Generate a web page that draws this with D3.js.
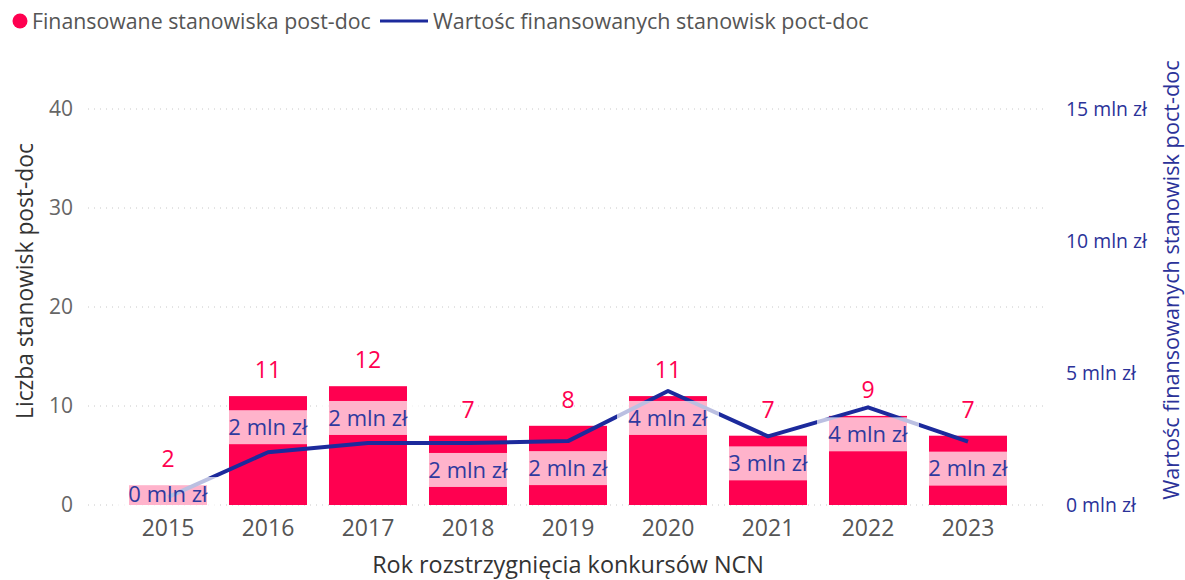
<!DOCTYPE html>
<html>
<head>
<meta charset="utf-8">
<script src="https://cdn.jsdelivr.net/npm/d3@7"></script>
<style>
  html, body { margin: 0; padding: 0; background: #fff; }
  svg { display: block; font-family: "Open Sans", "Segoe UI", sans-serif; }
</style>
</head>
<body>
<svg id="chart" width="1185" height="580"></svg>
<script>
// Years of NCN competition results
const years = ["2015", "2016", "2017", "2018", "2019", "2020", "2021", "2022", "2023"];
// Number of funded post-doc positions
const positions = [2, 11, 12, 7, 8, 11, 7, 9, 7];
// Value of funded post-doc positions, mln zł
const valueMln = [0.3, 2.0, 2.35, 2.35, 2.42, 4.32, 2.6, 3.7, 2.4];
// Where each value label sits relative to its point
const labelPlacement = ["center", "above", "above", "below", "below", "below", "below", "below", "below"];
const leftTicks = [0, 10, 20, 30, 40];
const rightTicks = [0, 5, 10, 15];

const RED = "#FF0050";
const BLUE = "#1C2A9C";
const LABEL_BLUE = "#2E3A9E";
const AXIS_BLUE = "#2B3299";

const svg = d3.select("#chart");
const plot = { left: 118, right: 1018, top: 109, bottom: 505 };

const x = d3.scaleBand().domain(years).range([plot.left, plot.right]).paddingInner(0.22).paddingOuter(0.11);
const yLeft = d3.scaleLinear().domain([0, 40]).range([plot.bottom, plot.top]);
const yRight = d3.scaleLinear().domain([0, 15]).range([plot.bottom, plot.top]);

// Dotted gridlines
svg.append("g").selectAll("line").data(leftTicks).join("line")
  .attr("x1", 88).attr("x2", 1048)
  .attr("y1", d => yLeft(d)).attr("y2", d => yLeft(d))
  .attr("stroke", "#c8c8c8").attr("stroke-width", 1)
  .attr("stroke-dasharray", "1,5");

// Left axis
const leftAxis = svg.append("g").attr("transform", `translate(78,0)`)
  .call(d3.axisLeft(yLeft).tickValues(leftTicks).tickSize(0).tickPadding(5));
leftAxis.select(".domain").remove();
leftAxis.selectAll("text").attr("fill", "#666").attr("font-size", 21).attr("font-family", "Open Sans");

// Right axis
const rightAxis = svg.append("g").attr("transform", `translate(1062,0)`)
  .call(d3.axisRight(yRight).tickValues(rightTicks).tickSize(0).tickPadding(4)
    .tickFormat(d => `${d} mln zł`));
rightAxis.select(".domain").remove();
rightAxis.selectAll("text").attr("fill", AXIS_BLUE).attr("font-size", 19.4).attr("font-family", "Open Sans");

// Bottom axis
const xAxis = svg.append("g").attr("transform", `translate(0,${plot.bottom})`)
  .call(d3.axisBottom(x).tickSize(0).tickPadding(15));
xAxis.select(".domain").remove();
xAxis.selectAll("text").attr("fill", "#555").attr("font-size", 23).attr("font-family", "Open Sans");

// Axis titles
svg.append("text").attr("transform", "translate(33,281) rotate(-90)")
  .attr("text-anchor", "middle").attr("fill", "#333").attr("font-size", 22.8)
  .text("Liczba stanowisk post-doc");
svg.append("text").attr("transform", "translate(1179,280) rotate(-90)")
  .attr("text-anchor", "middle").attr("fill", AXIS_BLUE).attr("font-size", 21.7)
  .text("Wartośc finansowanych stanowisk poct-doc");
svg.append("text").attr("x", 568).attr("y", 573)
  .attr("text-anchor", "middle").attr("fill", "#333").attr("font-size", 23.4)
  .text("Rok rozstrzygnięcia konkursów NCN");

// Bars
svg.append("g").selectAll("rect").data(years).join("rect")
  .attr("x", d => x(d)).attr("width", x.bandwidth())
  .attr("y", (d, i) => yLeft(positions[i]))
  .attr("height", (d, i) => plot.bottom - yLeft(positions[i]))
  .attr("fill", RED);

// Bar value labels
svg.append("g").selectAll("text").data(years).join("text")
  .attr("x", d => x(d) + x.bandwidth() / 2)
  .attr("y", (d, i) => yLeft(positions[i]) - 18)
  .attr("text-anchor", "middle").attr("fill", RED).attr("font-size", 23)
  .text((d, i) => positions[i]);

// Value line
const line = d3.line()
  .x((d, i) => x(years[i]) + x.bandwidth() / 2)
  .y(d => yRight(d));
svg.append("path").datum(valueMln)
  .attr("d", line).attr("fill", "none")
  .attr("stroke", BLUE).attr("stroke-width", 4)
  .attr("stroke-linejoin", "round");

// Value labels with translucent backgrounds
const boxW = 102, boxH = 34;
const labels = svg.append("g").selectAll("g").data(years).join("g")
  .attr("transform", (d, i) => {
    const cx = x(d) + x.bandwidth() / 2;
    const py = yRight(valueMln[i]);
    let cy;
    if (labelPlacement[i] === "above") cy = py - 8 - boxH / 2;
    else if (labelPlacement[i] === "below") cy = py + 10 + boxH / 2;
    else cy = Math.min(py - 3, plot.bottom - 11);
    return `translate(${cx},${cy})`;
  });
labels.append("rect")
  .attr("x", -boxW / 2).attr("y", -boxH / 2)
  .attr("width", boxW).attr("height", boxH)
  .attr("fill", "#fff").attr("fill-opacity", 0.7);
labels.append("text")
  .attr("text-anchor", "middle").attr("dy", "0.35em")
  .attr("fill", LABEL_BLUE).attr("font-size", 22)
  .text((d, i) => `${Math.round(valueMln[i])} mln zł`);

// Legend
const legend = svg.append("g");
legend.append("circle").attr("cx", 20).attr("cy", 21).attr("r", 7.5).attr("fill", RED);
legend.append("text").attr("x", 32).attr("y", 29).attr("fill", "#555").attr("font-size", 21.3)
  .text("Finansowane stanowiska post-doc");
legend.append("line").attr("x1", 380).attr("x2", 428).attr("y1", 21).attr("y2", 21)
  .attr("stroke", BLUE).attr("stroke-width", 3);
legend.append("text").attr("x", 433).attr("y", 29).attr("fill", "#555").attr("font-size", 21.5)
  .text("Wartośc finansowanych stanowisk poct-doc");
</script>
</body>
</html>
